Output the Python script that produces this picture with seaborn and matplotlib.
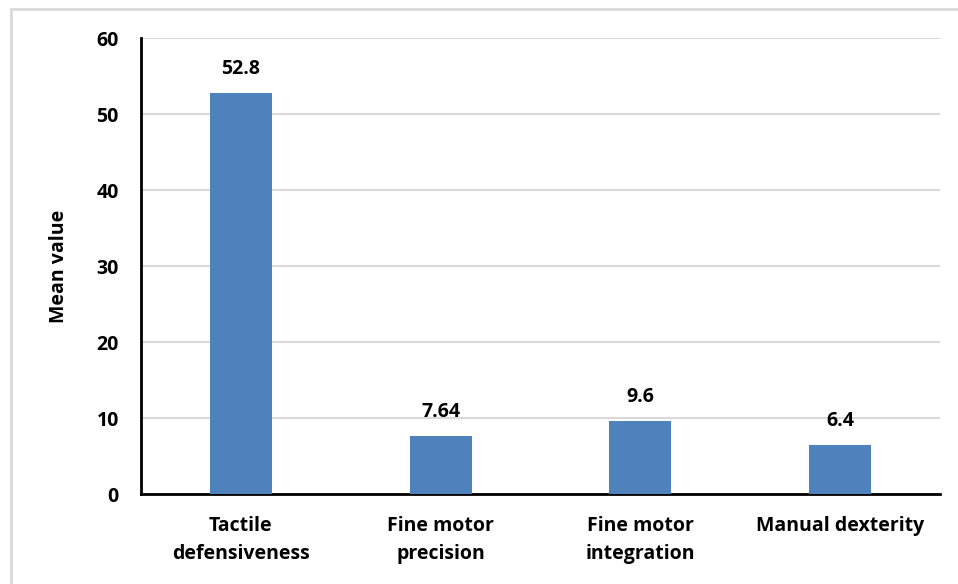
import matplotlib
matplotlib.use("Agg")
import matplotlib.pyplot as plt
from matplotlib.lines import Line2D
import seaborn as sns
import pandas as pd

categories = ["Tactile\ndefensiveness", "Fine motor\nprecision", "Fine motor\nintegration", "Manual dexterity"]
values = [52.8, 7.64, 9.6, 6.4]
value_labels = ["52.8", "7.64", "9.6", "6.4"]
y_ticks = [0, 10, 20, 30, 40, 50, 60]

sns.set_theme(style="white")
plt.rcParams["font.family"] = ["Open Sans", "DejaVu Sans"]
plt.rcParams["text.color"] = "black"
plt.rcParams["axes.labelcolor"] = "black"

df = pd.DataFrame({"category": categories, "value": values})

fig = plt.figure(figsize=(9.58, 5.84), dpi=100)
ax = fig.add_axes([0.1472, 0.1541, 0.8338, 0.7808])

sns.barplot(data=df, x="category", y="value", color="#4F81BD", saturation=1,
            width=0.31, ax=ax, zorder=3, edgecolor="#4F81BD", linewidth=0)

ax.set_ylim(0, 60)
ax.set_xlim(-0.5, 3.5)
ax.set_yticks(y_ticks)
ax.set_yticklabels([str(t) for t in y_ticks], fontsize=14, fontweight="bold")
ax.set_xticklabels(categories, fontsize=14, fontweight="bold", linespacing=1.55)
ax.tick_params(axis="both", length=0, colors="black")
ax.tick_params(axis="y", pad=16)
ax.tick_params(axis="x", pad=16)

ax.yaxis.grid(True, color="#d9d9d9", linewidth=1.5, zorder=0)
ax.set_axisbelow(True)

for side in ["top", "right"]:
    ax.spines[side].set_visible(False)
for side in ["left", "bottom"]:
    ax.spines[side].set_color("black")
    ax.spines[side].set_linewidth(2)

ax.set_xlabel("")
ax.set_ylabel("Mean value", fontsize=14, fontweight="bold", labelpad=20)

for bar, lab in zip(ax.patches, value_labels):
    ax.annotate(lab, (bar.get_x() + bar.get_width() / 2, bar.get_height()),
                xytext=(0, 10), textcoords="offset points", ha="center", va="bottom",
                fontsize=14, fontweight="bold", color="black")

# light outer frame on the top and left edges
fig.add_artist(Line2D([0.0115, 1.0], [0.985, 0.985], transform=fig.transFigure,
                      color="#d9d9d9", linewidth=2))
fig.add_artist(Line2D([0.0115, 0.0115], [0.0, 0.985], transform=fig.transFigure,
                      color="#d9d9d9", linewidth=2))

fig.savefig("out.png", dpi=100, facecolor="white")
